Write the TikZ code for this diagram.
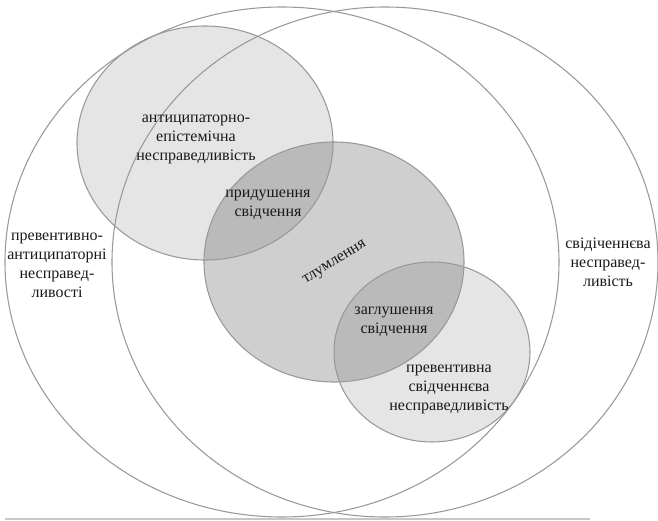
\documentclass[tikz,border=0pt]{standalone}
\usepackage{fontspec}
\setmainfont{Liberation Serif}

\begin{document}
\begin{tikzpicture}[x=0.75pt, y=-0.75pt,
    font=\fontsize{12}{14.2}\selectfont,
    rim/.style={draw=black!40, line width=0.8pt},
    lite/.style={fill=black, fill opacity=0.1},
    dark/.style={fill=black, fill opacity=0.19},
    lbl/.style={align=center, inner sep=0pt, text=black!90}]

        \useasboundingbox (0,0) rectangle (658,521);

        % centres of the sets
        \coordinate (A) at (282, 262);
        \coordinate (B) at (385, 262);
        \coordinate (E) at (205, 143);
        \coordinate (T) at (334, 262);
        \coordinate (P) at (432, 352);

        % grey fills
        \path[lite] (E) ellipse [x radius=128, y radius=117];
        \path[lite] (P) ellipse [x radius=98, y radius=90];
        \path[dark] (T) ellipse [x radius=130, y radius=120];

        % outlines
        \draw[rim] (A) ellipse [x radius=277, y radius=255];
        \draw[rim] (B) ellipse [x radius=273, y radius=255];
        \draw[rim] (E) ellipse [x radius=128, y radius=117];
        \draw[rim] (T) ellipse [x radius=130, y radius=120];
        \draw[rim] (P) ellipse [x radius=98, y radius=90];

        % base line
        \coordinate (L1) at (5, 519);
        \coordinate (L2) at (590, 519);
        \draw[black!22, line width=0.8pt] (L1) -- (L2);

        % labels
        \node[lbl] (ae) at (196, 139) {антиципаторно-\\епістемічна\\несправедливість};
        \node[lbl] (pryd) at (268, 205) {придушення\\свідчення};
        \node[lbl] (pa) at (57, 265) {превентивно-\\антиципаторні\\несправед-\\ливості};
        \node[lbl] (svid) at (608, 262) {свідіченнєва\\несправед-\\ливість};
        \node[lbl, rotate=32] (tlum) at (335, 263) {тлумлення};
        \node[lbl] (zagl) at (394, 322) {заглушення\\свідчення};
        \node[lbl] (prev) at (449, 389) {превентивна\\свідченнєва\\несправедливість};

    \end{tikzpicture}
\end{document}
